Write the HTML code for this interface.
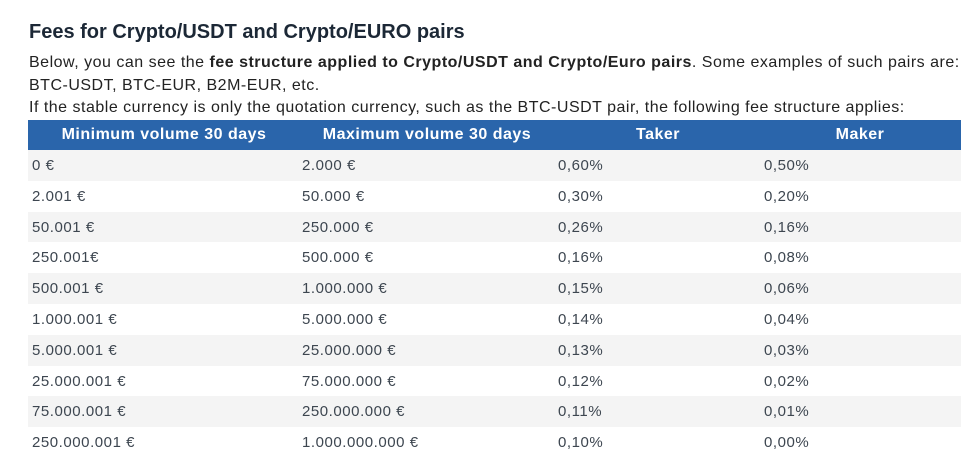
<!DOCTYPE html>
<html><head><meta charset="utf-8"><style>
body{margin:0;width:974px;height:461px;background:#fff;font-family:"Liberation Sans",sans-serif;position:relative;overflow:hidden}
.t{position:absolute;left:29px;top:21px;font-size:20px;font-weight:bold;color:#1c2836;white-space:nowrap}
.p{position:absolute;left:29px;font-size:16px;letter-spacing:0.5px;color:#222;white-space:nowrap}
.hd{position:absolute;left:28px;top:120px;width:933px;height:30px;background:#2a65ab}
.hd span{position:absolute;top:6px;color:#fff;font-weight:bold;font-size:16px;letter-spacing:0.5px;transform:translateX(-50%);white-space:nowrap}
.r{position:absolute;left:28px;width:933px;height:30.8px;font-size:15px;letter-spacing:0.55px;color:#3d4650}
.r.g{background:#f4f4f4}
.r span{position:absolute;top:7px;white-space:nowrap}
</style></head><body>
<div class="t">Fees for Crypto/USDT and Crypto/EURO pairs</div>
<div class="p" style="top:54px">Below, you can see the <b>fee structure applied to Crypto/USDT and Crypto/Euro pairs</b>. Some examples of such pairs are:</div>
<div class="p" style="top:77px">BTC-USDT, BTC-EUR, B2M-EUR, etc.</div>
<div class="p" style="top:99px">If the stable currency is only the quotation currency, such as the BTC-USDT pair, the following fee structure applies:</div>
<div class="hd"><span style="left:136px">Minimum volume 30 days</span><span style="left:399px">Maximum volume 30 days</span><span style="left:630px">Taker</span><span style="left:832px">Maker</span></div>
<div class="r g" style="top:150px"><span style="left:4px">0 €</span><span style="left:274px">2.000 €</span><span style="left:530px">0,60%</span><span style="left:736px">0,50%</span></div>
<div class="r" style="top:180.8px"><span style="left:4px">2.001 €</span><span style="left:274px">50.000 €</span><span style="left:530px">0,30%</span><span style="left:736px">0,20%</span></div>
<div class="r g" style="top:211.6px"><span style="left:4px">50.001 €</span><span style="left:274px">250.000 €</span><span style="left:530px">0,26%</span><span style="left:736px">0,16%</span></div>
<div class="r" style="top:242.4px"><span style="left:4px">250.001€</span><span style="left:274px">500.000 €</span><span style="left:530px">0,16%</span><span style="left:736px">0,08%</span></div>
<div class="r g" style="top:273.2px"><span style="left:4px">500.001 €</span><span style="left:274px">1.000.000 €</span><span style="left:530px">0,15%</span><span style="left:736px">0,06%</span></div>
<div class="r" style="top:304px"><span style="left:4px">1.000.001 €</span><span style="left:274px">5.000.000 €</span><span style="left:530px">0,14%</span><span style="left:736px">0,04%</span></div>
<div class="r g" style="top:334.8px"><span style="left:4px">5.000.001 €</span><span style="left:274px">25.000.000 €</span><span style="left:530px">0,13%</span><span style="left:736px">0,03%</span></div>
<div class="r" style="top:365.6px"><span style="left:4px">25.000.001 €</span><span style="left:274px">75.000.000 €</span><span style="left:530px">0,12%</span><span style="left:736px">0,02%</span></div>
<div class="r g" style="top:396.4px"><span style="left:4px">75.000.001 €</span><span style="left:274px">250.000.000 €</span><span style="left:530px">0,11%</span><span style="left:736px">0,01%</span></div>
<div class="r" style="top:427.2px"><span style="left:4px">250.000.001 €</span><span style="left:274px">1.000.000.000 €</span><span style="left:530px">0,10%</span><span style="left:736px">0,00%</span></div>
</body></html>
